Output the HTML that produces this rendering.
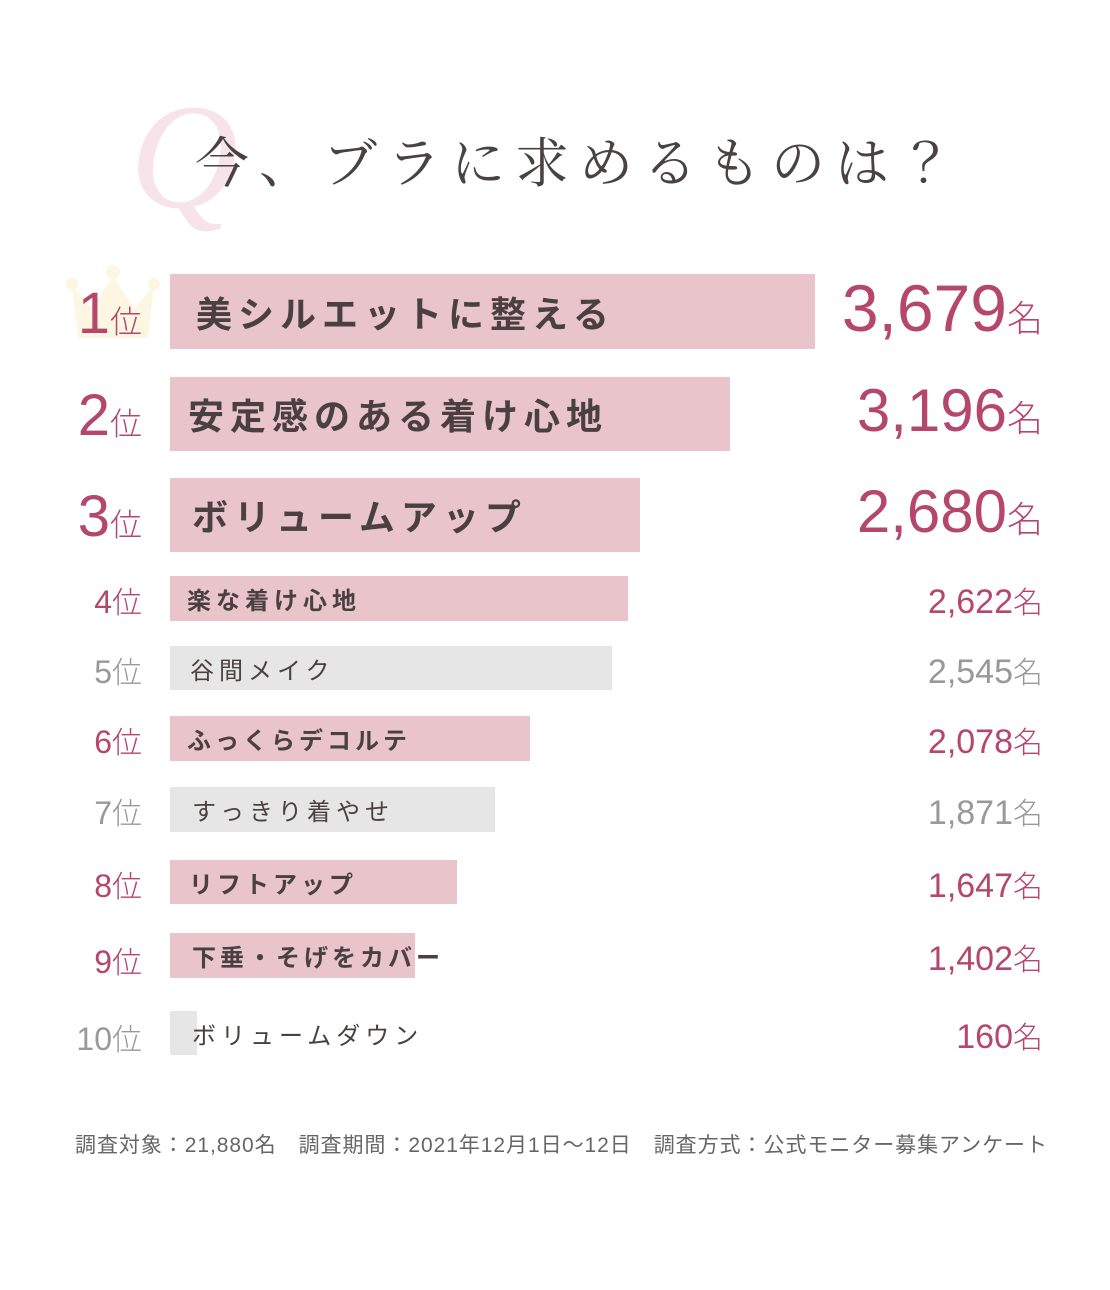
<!DOCTYPE html>
<html><head><meta charset="utf-8"><style>
body{margin:0;background:#fff;width:1110px;height:1290px;position:relative;overflow:hidden;font-family:"Liberation Sans","Noto Sans CJK JP",sans-serif}
.a{position:absolute;white-space:nowrap}
.bar{position:absolute;left:170px}
.p{background:#e9c5cb}.g{background:#e6e6e6}
.lab{position:absolute;left:0;top:0;bottom:0;display:flex;align-items:center;color:#4a4040;font-weight:bold;white-space:nowrap}
.rk{position:absolute;right:968px;text-align:right;white-space:nowrap;font-weight:300}
.v{position:absolute;right:67px;text-align:right;white-space:nowrap}
.v small{font-size:30px}
</style></head><body>
<div class="a" style="left:130px;top:82px;font-family:'Liberation Serif',serif;font-style:italic;font-size:150px;color:#f7e4ea;line-height:1">Q</div>
<div class="a" style="left:195px;top:128px;font-family:'Noto Serif CJK JP','Noto Serif CJK SC',serif;font-size:54px;color:#4a4242;letter-spacing:10px;line-height:1.2">今、ブラに求めるものは？</div>
<svg class="a" style="left:66px;top:264px" width="94" height="75"><path d="M6 22 L26 44 L47 12 L68 44 L88 22 L82 74 L12 74 Z" fill="#fdf6e3"/><circle cx="6" cy="20" r="6" fill="#fdf6e3"/><circle cx="47" cy="8" r="7" fill="#fdf6e3"/><circle cx="88" cy="20" r="6" fill="#fdf6e3"/></svg>

<div class="bar p" style="top:274px;height:75px;width:645px"><div class="lab" style="left:26px;font-size:36px;letter-spacing:6px">美シルエットに整える</div></div>
<div class="bar p" style="top:377px;height:74px;width:560px"><div class="lab" style="left:18px;font-size:36px;letter-spacing:6px">安定感のある着け心地</div></div>
<div class="bar p" style="top:478px;height:74px;width:470px"><div class="lab" style="left:22px;font-size:36px;letter-spacing:6px">ボリュームアップ</div></div>
<div class="bar p" style="top:576px;height:45px;width:458px"><div class="lab" style="left:17px;font-size:24px;letter-spacing:5px">楽な着け心地</div></div>
<div class="bar g" style="top:646px;height:44px;width:442px"><div class="lab" style="left:20px;font-size:24px;letter-spacing:5px;font-weight:normal">谷間メイク</div></div>
<div class="bar p" style="top:716px;height:45px;width:360px"><div class="lab" style="left:17px;font-size:24px;letter-spacing:4px">ふっくらデコルテ</div></div>
<div class="bar g" style="top:787px;height:45px;width:325px"><div class="lab" style="left:22px;font-size:24px;letter-spacing:5px;font-weight:normal">すっきり着やせ</div></div>
<div class="bar p" style="top:860px;height:44px;width:287px"><div class="lab" style="left:19px;font-size:24px;letter-spacing:4px">リフトアップ</div></div>
<div class="bar p" style="top:933px;height:45px;width:245px"><div class="lab" style="left:22px;font-size:24px;letter-spacing:4px">下垂・そげをカバー</div></div>
<div class="bar g" style="top:1011px;height:44px;width:27px"><div class="lab" style="left:22px;font-size:24px;letter-spacing:5px;font-weight:normal">ボリュームダウン</div></div>

<div class="rk" style="top:280px;color:#b5476a;font-size:58px">1<span style="font-size:32px">位</span></div>
<div class="rk" style="top:382px;color:#b5476a;font-size:58px">2<span style="font-size:32px">位</span></div>
<div class="rk" style="top:483px;color:#b5476a;font-size:58px">3<span style="font-size:32px">位</span></div>
<div class="rk" style="top:578px;color:#b5476a;font-size:32px">4<span style="font-size:30px">位</span></div>
<div class="rk" style="top:648px;color:#999;font-size:32px">5<span style="font-size:30px">位</span></div>
<div class="rk" style="top:718px;color:#b5476a;font-size:32px">6<span style="font-size:30px">位</span></div>
<div class="rk" style="top:789px;color:#999;font-size:32px">7<span style="font-size:30px">位</span></div>
<div class="rk" style="top:862px;color:#b5476a;font-size:32px">8<span style="font-size:30px">位</span></div>
<div class="rk" style="top:938px;color:#b5476a;font-size:32px">9<span style="font-size:30px">位</span></div>
<div class="rk" style="top:1015px;color:#999;font-size:32px">10<span style="font-size:30px">位</span></div>

<div class="v" style="top:270px;color:#b5476a;font-size:66px;font-weight:300">3,679<small style="font-size:36px">名</small></div>
<div class="v" style="top:376px;color:#b5476a;font-size:60px;font-weight:300">3,196<small style="font-size:36px">名</small></div>
<div class="v" style="top:477px;color:#b5476a;font-size:60px;font-weight:300">2,680<small style="font-size:36px">名</small></div>
<div class="v" style="top:578px;color:#b5476a;font-size:34px;font-weight:300">2,622<small>名</small></div>
<div class="v" style="top:648px;color:#999;font-size:34px;font-weight:300">2,545<small>名</small></div>
<div class="v" style="top:718px;color:#b5476a;font-size:34px;font-weight:300">2,078<small>名</small></div>
<div class="v" style="top:789px;color:#999;font-size:34px;font-weight:300">1,871<small>名</small></div>
<div class="v" style="top:862px;color:#b5476a;font-size:34px;font-weight:300">1,647<small>名</small></div>
<div class="v" style="top:935px;color:#b5476a;font-size:34px;font-weight:300">1,402<small>名</small></div>
<div class="v" style="top:1013px;color:#b5476a;font-size:34px;font-weight:300">160<small>名</small></div>

<div class="a" style="left:75px;top:1129px;font-size:21px;color:#666;letter-spacing:0.95px">調査対象：21,880名　調査期間：2021年12月1日～12日　調査方式：公式モニター募集アンケート</div>
</body></html>
